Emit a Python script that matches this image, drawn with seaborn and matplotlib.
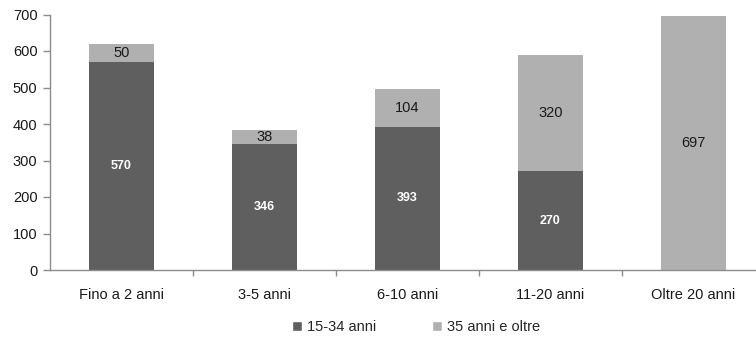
import matplotlib
matplotlib.use("Agg")
import matplotlib.pyplot as plt
from matplotlib.patches import Patch
import seaborn as sns
import pandas as pd

categories = ["Fino a 2 anni", "3-5 anni", "6-10 anni", "11-20 anni", "Oltre 20 anni"]
giovani = [570, 346, 393, 270, 0]        # 15-34 anni
adulti = [50, 38, 104, 320, 697]         # 35 anni e oltre
series_names = ["15-34 anni", "35 anni e oltre"]
y_ticks = [0, 100, 200, 300, 400, 500, 600, 700]

DARK = "#5f5f5f"
LIGHT = "#b0b0b0"
AXIS = "#8c8c8c"
TEXT = "#1a1a1a"

sns.set_theme(style="white")
plt.rcParams["font.family"] = ["Liberation Sans", "DejaVu Sans"]

df = pd.DataFrame({"cat": categories, "giovani": giovani, "adulti": adulti})
df["totale"] = df["giovani"] + df["adulti"]

fig = plt.figure(figsize=(7.56, 3.39), dpi=100)
ax = fig.add_axes([50 / 756, 1 - 270 / 339, 715 / 756, 255.5 / 339])

# stacked bars: the full total in light grey, the younger group drawn over it
sns.barplot(data=df, x="cat", y="totale", color=LIGHT, width=0.455,
            saturation=1, ax=ax, linewidth=0)
sns.barplot(data=df, x="cat", y="giovani", color=DARK, width=0.455,
            saturation=1, ax=ax, linewidth=0)

for i, row in df.iterrows():
    if row["giovani"] > 0:
        ax.text(i, row["giovani"] / 2, f"{row['giovani']}", ha="center", va="center",
                color="white", fontsize=9, fontweight="bold")
    if row["adulti"] > 0:
        ax.text(i, row["giovani"] + row["adulti"] / 2, f"{row['adulti']}",
                ha="center", va="center", color=TEXT, fontsize=10.5)

ax.set_xlim(-0.5, 4.5)
ax.set_ylim(0, 700)
ax.set_yticks(y_ticks)
ax.set_yticklabels([str(t) for t in y_ticks], fontsize=10.5, color=TEXT)
ax.set_xticks(range(len(categories)))
ax.set_xticklabels(categories, fontsize=10.5, color=TEXT)
ax.set_xlabel("")
ax.set_ylabel("")

# category separator ticks on the x axis
ax.set_xticks([0.5, 1.5, 2.5, 3.5], minor=True)
ax.tick_params(axis="x", which="major", length=0, pad=13)
ax.tick_params(axis="x", which="minor", direction="out", length=4, width=1, color=AXIS, bottom=True)
ax.tick_params(axis="y", direction="out", length=5, width=1, color=AXIS, left=True, pad=4)

for side in ["top", "right"]:
    ax.spines[side].set_visible(False)
for side in ["left", "bottom"]:
    ax.spines[side].set_color(AXIS)
    ax.spines[side].set_linewidth(1)

handles = [Patch(facecolor=DARK, label=series_names[0]),
           Patch(facecolor=LIGHT, label=series_names[1])]
fig.legend(handles=handles, loc="center", bbox_to_anchor=(416 / 756, 1 - 327 / 339),
           ncol=2, frameon=False, fontsize=10.5, handlelength=0.7, handleheight=0.7,
           handletextpad=0.35, columnspacing=3.8, borderaxespad=0, borderpad=0)

fig.savefig("out.png", dpi=100)
